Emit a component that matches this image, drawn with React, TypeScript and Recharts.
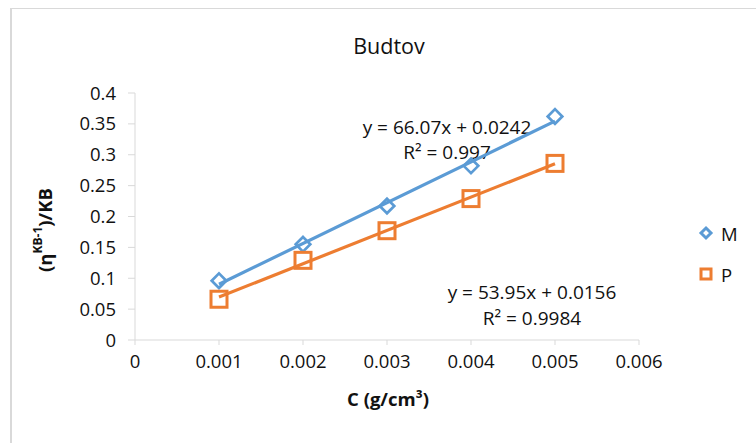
import React from "react";
import { ScatterChart, Scatter, XAxis, YAxis } from "recharts";

// Concentration (g/cm³)
const concentrations = [0.001, 0.002, 0.003, 0.004, 0.005];
// Reduced values for each sample
const seriesM = [0.096, 0.155, 0.217, 0.282, 0.362];
const seriesP = [0.066, 0.129, 0.177, 0.229, 0.286];

// Linear fits reported for each sample
const fitM = { slope: 66.07, intercept: 0.0242, r2: "0.997" };
const fitP = { slope: 53.95, intercept: 0.0156, r2: "0.9984" };

const xTicks = [0, 0.001, 0.002, 0.003, 0.004, 0.005, 0.006];
const yTicks = [0, 0.05, 0.1, 0.15, 0.2, 0.25, 0.3, 0.35, 0.4];

const BLUE = "#5B9BD5";
const ORANGE = "#ED7D31";
const AXIS = "#d9d9d9";
const TEXT = "#111";
const FONT = "'Open Sans', sans-serif";
const TICK_SIZE = 18.5;
const NOTE_SIZE = 19;

const dataM = concentrations.map((x, i) => ({ x, y: seriesM[i] }));
const dataP = concentrations.map((x, i) => ({ x, y: seriesP[i] }));

const xMin = Math.min(...concentrations);
const xMax = Math.max(...concentrations);
const trend = (f: { slope: number; intercept: number }) => [
  { x: xMin, y: f.slope * xMin + f.intercept },
  { x: xMax, y: f.slope * xMax + f.intercept },
];
const trendM = trend(fitM);
const trendP = trend(fitP);

const DiamondMarker = (props: any) => {
  const { cx, cy } = props;
  const r = 7.3;
  return (
    <path
      d={`M${cx},${cy - r}L${cx + r},${cy}L${cx},${cy + r}L${cx - r},${cy}Z`}
      fill="#fff"
      stroke={BLUE}
      strokeWidth={2.7}
    />
  );
};

const SquareMarker = (props: any) => {
  const { cx, cy } = props;
  const h = 8;
  return (
    <rect x={cx - h} y={cy - h} width={2 * h} height={2 * h} fill="#fff" stroke={ORANGE} strokeWidth={3} />
  );
};

const NoMarker = () => <g />;

const fmtEq = (f: { slope: number; intercept: number }) => `y = ${f.slope}x + ${f.intercept}`;

// Title, fit equations and the series key
const Annotations = () => (
  <g fontFamily={FONT} fill={TEXT}>
    <text x={389} y={45} textAnchor="middle" dominantBaseline="central" fontSize={21.5}>
      Budtov
    </text>
    <text x={447} y={127} textAnchor="middle" dominantBaseline="central" fontSize={NOTE_SIZE}>
      {fmtEq(fitM)}
    </text>
    <text x={447} y={152} textAnchor="middle" dominantBaseline="central" fontSize={NOTE_SIZE}>
      {`R² = ${fitM.r2}`}
    </text>
    <text x={532} y={292} textAnchor="middle" dominantBaseline="central" fontSize={NOTE_SIZE}>
      {fmtEq(fitP)}
    </text>
    <text x={532} y={318} textAnchor="middle" dominantBaseline="central" fontSize={NOTE_SIZE}>
      {`R² = ${fitP.r2}`}
    </text>
    <g transform="translate(706,233)">
      <path d="M0,-5L5,0L0,5L-5,0Z" fill="#fff" stroke={BLUE} strokeWidth={3} />
      <text x={15} y={0} dominantBaseline="central" fontSize={TICK_SIZE}>
        M
      </text>
    </g>
    <g transform="translate(706,274)">
      <rect x={-5} y={-5} width={10} height={10} fill="#fff" stroke={ORANGE} strokeWidth={3} />
      <text x={15} y={0} dominantBaseline="central" fontSize={TICK_SIZE}>
        P
      </text>
    </g>
  </g>
);

const YTitle = () => (
  <text
    transform="translate(44,230) rotate(-90)"
    textAnchor="middle"
    dominantBaseline="central"
    fontFamily={FONT}
    fontSize={18.5}
    fontWeight="bold"
    fill={TEXT}
  >
    <tspan>(η</tspan>
    <tspan fontSize={12} dy={-7}>KB-1</tspan>
    <tspan dy={7}>)/KB</tspan>
  </text>
);

const XTitle = () => (
  <text
    x={388}
    y={398}
    textAnchor="middle"
    dominantBaseline="central"
    fontFamily={FONT}
    fontSize={18.5}
    fontWeight="bold"
    fill={TEXT}
  >
    C (g/cm³)
  </text>
);

export default function App() {
  return (
    <div style={{ position: "absolute", left: 0, top: 0, width: 756, height: 443, background: "#fff" }}>
      <div
        style={{
          position: "absolute",
          left: 10,
          top: 8,
          width: 760,
          height: 450,
          borderLeft: `2px solid ${AXIS}`,
          borderTop: `1px solid ${AXIS}`,
        }}
      />
      <div style={{ position: "absolute", left: 0, top: 0 }}>
        <ScatterChart width={756} height={443} margin={{ top: 93, right: 117, bottom: 73, left: 75 }}>
          <XAxis
            type="number"
            dataKey="x"
            domain={[0, 0.006]}
            ticks={xTicks}
            interval={0}
            height={30}
            stroke={AXIS}
            tickLine={{ stroke: AXIS }}
            tickSize={5}
            tickMargin={10}
            tick={{ fill: TEXT, fontSize: TICK_SIZE, fontFamily: FONT }}
            label={{ content: () => <XTitle /> }}
          />
          <YAxis
            type="number"
            dataKey="y"
            domain={[0, 0.4]}
            ticks={yTicks}
            interval={0}
            width={60}
            stroke={AXIS}
            tickLine={{ stroke: AXIS }}
            tickSize={7}
            tickMargin={12}
            tick={{ fill: TEXT, fontSize: TICK_SIZE, fontFamily: FONT }}
            label={{ content: () => <YTitle /> }}
          />
          <Scatter name="M" data={dataM} shape={<DiamondMarker />} isAnimationActive={false} />
          <Scatter name="P" data={dataP} shape={<SquareMarker />} isAnimationActive={false} />
          <Scatter
            name="M fit"
            data={trendM}
            shape={<NoMarker />}
            line={{ stroke: BLUE, strokeWidth: 3.2 }}
            isAnimationActive={false}
            legendType="none"
          />
          <Scatter
            name="P fit"
            data={trendP}
            shape={<NoMarker />}
            line={{ stroke: ORANGE, strokeWidth: 3.2 }}
            isAnimationActive={false}
            legendType="none"
          />
          <Annotations />
        </ScatterChart>
      </div>
    </div>
  );
}
